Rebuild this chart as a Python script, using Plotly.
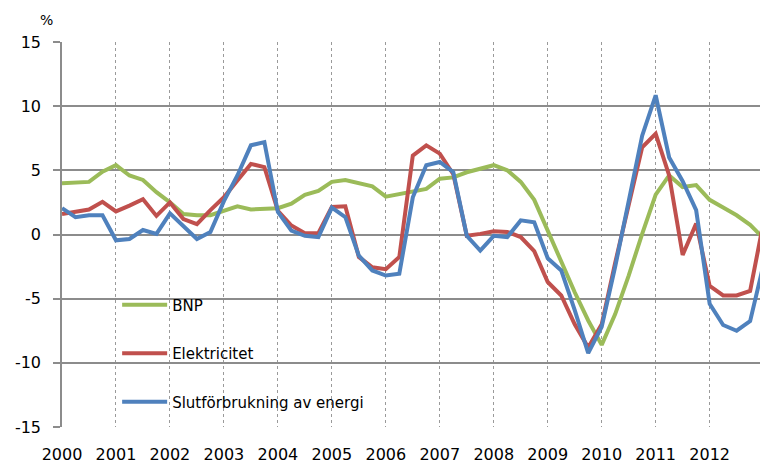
import plotly.graph_objects as go

# Quarterly periods 2000Q1 .. 2013Q1
quarters = [f"{y}Q{q}" for y in range(2000, 2014) for q in range(1, 5)][:53]

bnp = [4.0, 4.05, 4.1, 4.9, 5.4, 4.6, 4.25, 3.3, 2.5, 1.6, 1.5, 1.5,
       1.85, 2.2, 1.95, 2.0, 2.05, 2.4, 3.1, 3.4, 4.1, 4.25, 4.0, 3.75,
       2.95, 3.15, 3.3, 3.55, 4.35, 4.45, 4.85, 5.15, 5.4, 5.0, 4.1, 2.7,
       0.3, -2.0, -4.5, -6.7, -8.6, -6.2, -3.2, 0.05, 3.1, 4.6, 3.7, 3.85,
       2.7, 2.1, 1.5, 0.75, -0.3]

elektricitet = [1.6, 1.75, 1.95, 2.55, 1.8, 2.25, 2.75, 1.45, 2.5, 1.2, 0.8, 1.9,
                2.9, 4.2, 5.5, 5.25, 1.85, 0.7, 0.1, 0.1, 2.15, 2.2, -1.75, -2.55,
                -2.7, -1.75, 6.15, 6.95, 6.3, 4.7, -0.1, 0.05, 0.25, 0.2, -0.2, -1.3,
                -3.7, -4.75, -7.0, -8.8, -7.0, -2.2, 2.4, 6.8, 7.85, 4.6, -1.6, 0.85,
                -4.0, -4.75, -4.75, -4.4, 1.0]

slutforbrukning = [2.05, 1.35, 1.5, 1.5, -0.45, -0.35, 0.35, 0.05, 1.65, 0.7, -0.35, 0.2,
                   2.6, 4.6, 6.95, 7.2, 1.75, 0.3, -0.1, -0.2, 2.1, 1.35, -1.65, -2.8,
                   -3.2, -3.05, 2.9, 5.4, 5.65, 4.85, -0.1, -1.25, -0.1, -0.2, 1.1, 0.95,
                   -1.85, -2.8, -5.9, -9.25, -7.2, -2.5, 2.6, 7.7, 10.85, 6.0, 4.15, 1.9,
                   -5.4, -7.05, -7.5, -6.75, -2.3]

year_ticks = list(range(2000, 2013))
y_ticks = [-15, -10, -5, 0, 5, 10, 15]

series_names = ["BNP", "Elektricitet", "Slutförbrukning av energi"]
series_values = [bnp, elektricitet, slutforbrukning]
series_colors = ["#9BBB59", "#C0504D", "#4F81BD"]

x = [int(q[:4]) + (int(q[-1]) - 1) / 4 for q in quarters]

FONT = "DejaVu Sans"
fig = go.Figure()
for name, vals, col in zip(series_names, series_values, series_colors):
    fig.add_trace(go.Scatter(
        x=x, y=vals, name=name, mode="lines", legendgroup=name,
        line=dict(color=col, width=4),
    ))

fig.update_layout(
    width=760, height=465,
    margin=dict(l=62, r=0, t=42, b=38),
    paper_bgcolor="white", plot_bgcolor="white",
    font=dict(family=FONT, size=16, color="#000000"),
    showlegend=True,
    legend=dict(
        x=0.079, y=0.36, xanchor="left", yanchor="top",
        bgcolor="rgba(0,0,0,0)", borderwidth=0,
        font=dict(family=FONT, size=15, color="#000000"),
        tracegroupgap=26, itemwidth=45,
    ),
    xaxis=dict(
        range=[2000, 2012.933],
        tickmode="array", tickvals=year_ticks, ticktext=[str(v) for v in year_ticks],
        showgrid=True, gridcolor="#9a9a9a", griddash="dot", gridwidth=1,
        showline=False, zeroline=False, ticks="",
        ticklabelstandoff=16,
        tickfont=dict(family=FONT, size=16, color="#000000"),
    ),
    yaxis=dict(
        range=[-15, 15],
        tickmode="array", tickvals=y_ticks, ticktext=[str(v) for v in y_ticks],
        showgrid=True, gridcolor="#8c8c8c", gridwidth=1.5,
        zeroline=True, zerolinecolor="#8c8c8c", zerolinewidth=1.5,
        showline=True, linecolor="#8c8c8c", linewidth=1.5,
        ticks="outside", ticklen=7, tickcolor="#8c8c8c", tickwidth=1.5,
        ticklabelstandoff=9,
        tickfont=dict(family=FONT, size=16, color="#000000"),
    ),
    annotations=[dict(
        text="%", xref="paper", yref="paper", x=-0.01, y=1.0, yshift=22,
        xanchor="right", yanchor="middle", showarrow=False,
        font=dict(family=FONT, size=14, color="#000000"),
    )],
)

fig.write_html(
    "out.html",
    config={"displayModeBar": False},
    post_script="document.body.style.margin='0';"
                "document.body.style.overflow='hidden';"
                "document.documentElement.style.overflow='hidden';",
)
